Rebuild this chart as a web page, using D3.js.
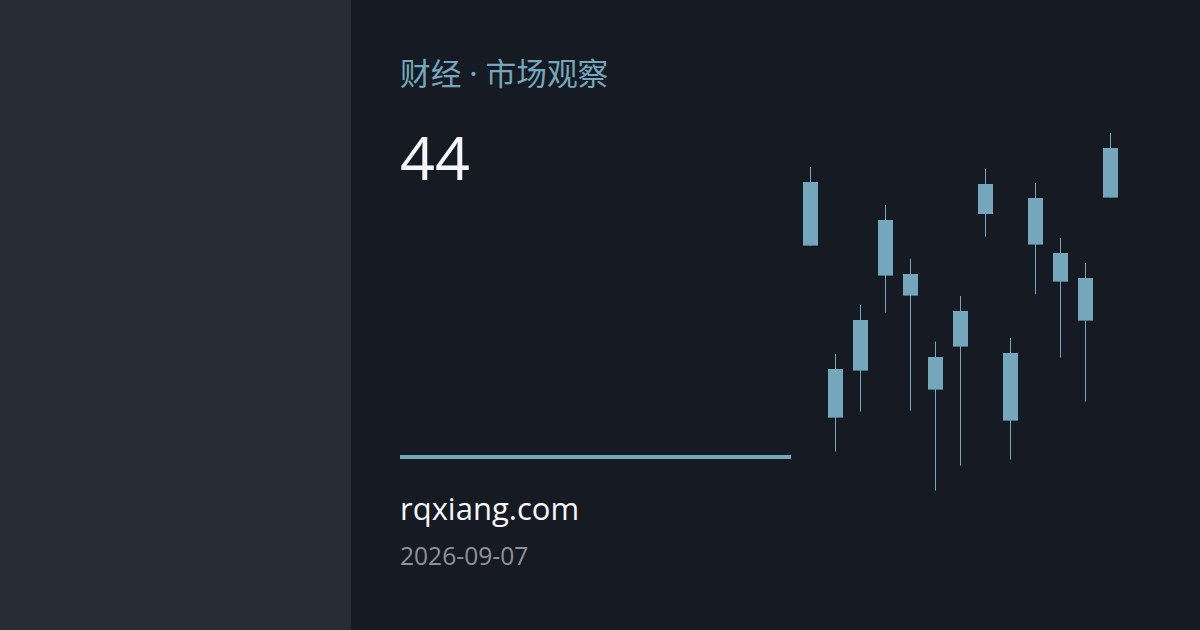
<!DOCTYPE html>
<html>
<head>
<meta charset="utf-8">
<script src="https://cdn.jsdelivr.net/npm/d3@7"></script>
<style>
  html, body { margin: 0; padding: 0; background: #161a22; }
  svg { display: block; }
</style>
</head>
<body>
<div id="card"></div>
<script>
  "use strict";

  // ---- data ----
  const title = "财经 · 市场观察";
  const headline = "44";
  const site = "rqxiang.com";
  const dateLabel = "2026-09-07";

  const days = [1, 2, 3, 4, 5, 6, 7, 8, 9, 10, 11, 12, 13];
  const opens  = [159, 41.2, 64.7, 140, 113, 55.2, 76.7, 158, 39.7, 151, 123.5, 111, 151.2];
  const closes = [127.2, 65.5, 90, 112.2, 102.2, 71.5, 94.5, 143, 73.5, 127.7, 109.2, 89.7, 176];
  const highs  = [166.5, 73, 97.5, 147.5, 120.5, 79.2, 102, 165.5, 81, 158.5, 131, 118.5, 183.5];
  const lows   = [127.2, 24.2, 44.2, 93.7, 44.7, 4.7, 17.2, 131.7, 20.2, 102.9, 71.2, 49.2, 151.2];

  const candles = days.map((d, i) => ({
    day: d, open: opens[i], close: closes[i], high: highs[i], low: lows[i]
  }));

  // ---- layout ----
  const w = 1200;
  const h = 630;
  const panelW = 351;
  const accent = "#74a7bb";

  const svg = d3.select("#card")
    .append("svg")
    .attr("width", w)
    .attr("height", h);

  svg.append("rect")
    .attr("width", w).attr("height", h)
    .attr("fill", "#161a22");

  svg.append("rect")
    .attr("width", panelW).attr("height", h)
    .attr("fill", "#272b33");

  // text block
  svg.append("text")
    .attr("x", 400).attr("y", 85)
    .attr("fill", accent)
    .style("font-family", "'Noto Sans', 'Noto Sans CJK SC', sans-serif")
    .style("font-size", "30.7px")
    .text(title);

  svg.append("text")
    .attr("x", 400).attr("y", 180)
    .attr("fill", "#f4f6f8")
    .style("font-family", "'Open Sans', 'Noto Sans', sans-serif")
    .style("font-size", "61px")
    .text(headline);

  svg.append("rect")
    .attr("x", 400).attr("y", 455)
    .attr("width", 391).attr("height", 4)
    .attr("fill", accent);

  svg.append("text")
    .attr("x", 400).attr("y", 520)
    .attr("fill", "#f4f6f8")
    .style("font-family", "'Open Sans', 'Noto Sans', sans-serif")
    .style("font-size", "31px")
    .text(site);

  svg.append("text")
    .attr("x", 400).attr("y", 565)
    .attr("fill", "#8c929b")
    .style("font-family", "'Open Sans', 'Noto Sans', sans-serif")
    .style("font-size", "24.6px")
    .text(dateLabel);

  // ---- candlesticks ----
  const xScale = d3.scaleBand()
    .domain(days)
    .range([798, 1123])
    .paddingInner(0.4)
    .paddingOuter(0.2);

  const yScale = d3.scaleLinear()
    .domain([0, 190])
    .range([500, 120]);

  const g = svg.append("g").attr("class", "candles");

  const candle = g.selectAll(".candle")
    .data(candles).enter()
    .append("g")
    .attr("class", "candle");

  candle.append("line")
    .attr("x1", d => xScale(d.day) + xScale.bandwidth() / 2)
    .attr("x2", d => xScale(d.day) + xScale.bandwidth() / 2)
    .attr("y1", d => yScale(d.high))
    .attr("y2", d => yScale(d.low))
    .attr("stroke", accent)
    .attr("stroke-width", 1);

  candle.append("rect")
    .attr("x", d => xScale(d.day))
    .attr("width", xScale.bandwidth())
    .attr("y", d => yScale(Math.max(d.open, d.close)))
    .attr("height", d => Math.abs(yScale(d.open) - yScale(d.close)))
    .attr("fill", accent);
</script>
</body>
</html>
